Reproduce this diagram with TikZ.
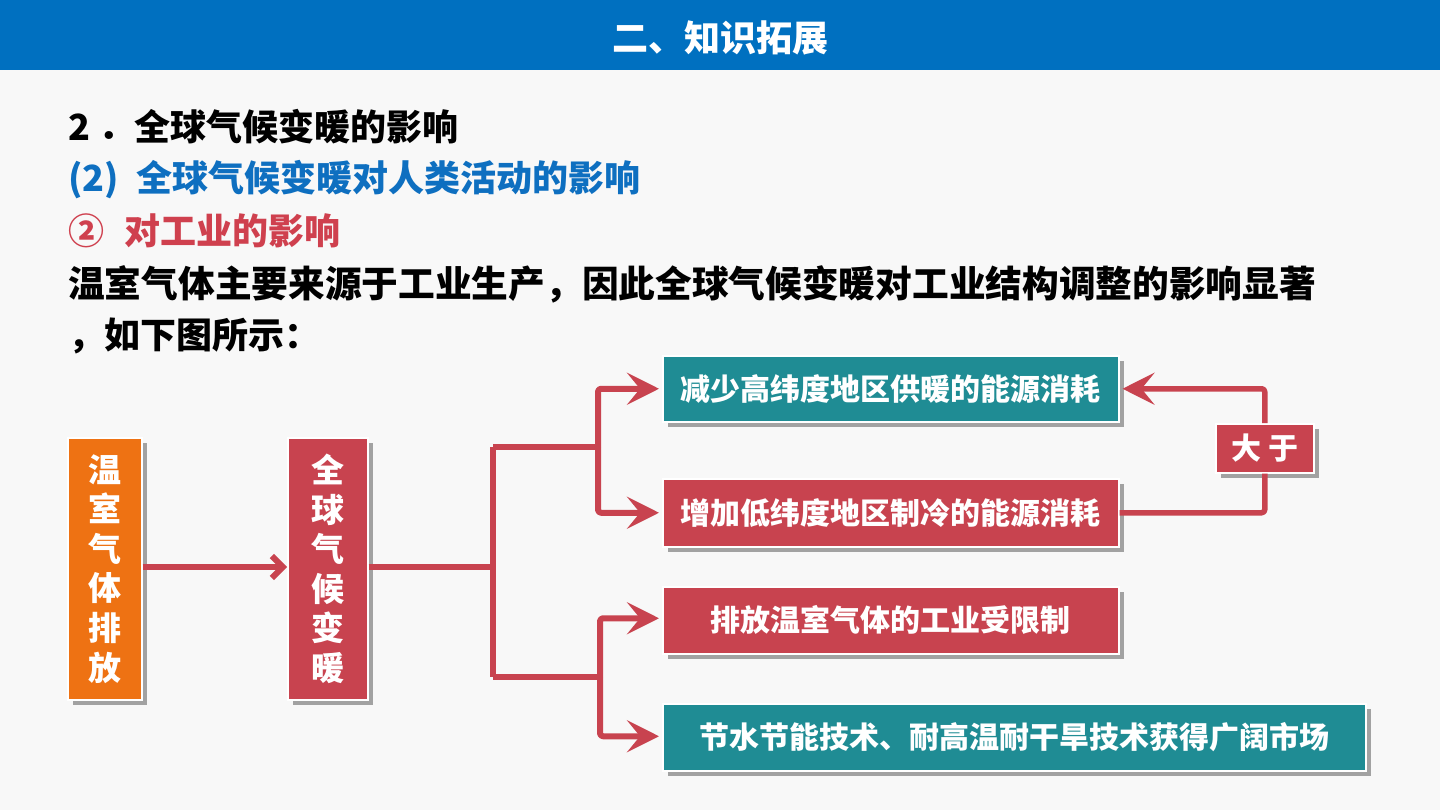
\documentclass[tikz,border=0pt]{standalone}
\usepackage{fontspec}
\setmainfont{Noto Sans CJK SC}
\usetikzlibrary{arrows.meta,shadows,calc}
\definecolor{bgc}{HTML}{F8F8F8}
\definecolor{barblue}{HTML}{0070C0}
\definecolor{txtblue}{HTML}{0E6FC0}
\definecolor{txtred}{HTML}{CF404E}
\definecolor{boxred}{HTML}{C8434F}
\definecolor{boxteal}{HTML}{1F8C94}
\definecolor{boxorange}{HTML}{EE7213}
\definecolor{shadowgray}{HTML}{A2A2A2}
\tikzset{
  box/.style={draw=white, line width=1.5pt, text=white, font=\bfseries\fontsize{30pt}{34pt}\selectfont,
    inner sep=0pt, anchor=north west,
    drop shadow={shadow xshift=5pt, shadow yshift=-5pt, fill=shadowgray, opacity=1}},
  vbox/.style={box, font=\bfseries\fontsize{33pt}{39.6pt}\selectfont, align=center},
  conn/.style={draw=boxred, line width=6pt, rounded corners=3pt, line join=round},
  bigtip/.style={conn, -{Stealth[length=32pt,width=32pt,inset=13pt]}},
  heading/.style={anchor=west, inner sep=0pt, font=\bfseries\fontsize{36pt}{40pt}\selectfont},
}
\begin{document}
\begin{tikzpicture}[x=1pt,y=-1pt]
\useasboundingbox (0,0) rectangle (1440,810);
\fill[bgc] (0,0) rectangle (1440,810);
\fill[barblue] (0,0) rectangle (1440,70);
\node[heading, anchor=center, text=white] (title) at (720,38) {二、知识拓展};

\node[heading] (l1) at (68,127) {2 ．全球气候变暖的影响};
\node[heading, text=txtblue] (l2) at (68,180) {(2)\hspace{18pt}全球气候变暖对人类活动的影响};
\node[heading, text=txtred] (l3) at (68,231) {②\hspace{20pt}对工业的影响};
\node[heading, font=\bfseries\fontsize{36.7pt}{40pt}\selectfont] (l4) at (68,284) {温室气体主要来源于工业生产，因此全球气候变暖对工业结构调整的影响显著};
\node[heading] (l5) at (68,336) {，如下图所示：};

% vertical boxes
\node[vbox, fill=boxorange, minimum width=74pt, minimum height=262pt] (ghg) at (67,437) {温\\室\\气\\体\\排\\放};
\node[vbox, fill=boxred, minimum width=80pt, minimum height=262pt] (gw) at (287,437) {全\\球\\气\\候\\变\\暖};

% right boxes
\node[box, fill=boxteal, minimum width=456pt, minimum height=66pt] (b1) at (662,355) {减少高纬度地区供暖的能源消耗};
\node[box, fill=boxred, minimum width=456pt, minimum height=68pt] (b2) at (662,478) {增加低纬度地区制冷的能源消耗};
\node[box, fill=boxred, minimum width=456pt, minimum height=67pt] (b3) at (662,586) {排放温室气体的工业受限制};
\node[box, fill=boxteal, minimum width=703pt, minimum height=67pt] (b4) at (662,703) {节水节能技术、耐高温耐干旱技术获得广阔市场};
\node[box, fill=boxred, minimum width=98pt, minimum height=49pt] (gt) at (1215,423) {大 于};

% connectors
\coordinate (j0) at (493,567);
\coordinate (jt) at (598,447);
\coordinate (jb) at (600,677);

\draw[conn, -{Straight Barb[length=11pt,width=22pt]}] (ghg.east |- j0) -- (gw.west |- j0);
\draw[conn] (gw.east |- j0) -- (j0);
\draw[conn] (j0 |- jt) -- (j0 |- jb);
\draw[conn] (j0 |- jt) -- (jt);
\draw[conn] (j0 |- jb) -- (jb);
\draw[bigtip] (jt) |- ($(b1.west)+(-3,0)$);
\draw[bigtip] (jt) |- ($(b2.west)+(-3,0)$);
\draw[bigtip] (jb) |- ($(b3.west)+(-3,-2)$);
\draw[bigtip] (jb) |- ($(b4.west)+(-3,-1)$);

\draw[conn, line width=5.5pt, -{Stealth[length=32pt,width=32pt,inset=13pt]}] (gt.north) |- ($(b1.east)+(3,0)$);
\draw[conn, line width=5.5pt] (gt.south) |- (b2.east);
\end{tikzpicture}
\end{document}
